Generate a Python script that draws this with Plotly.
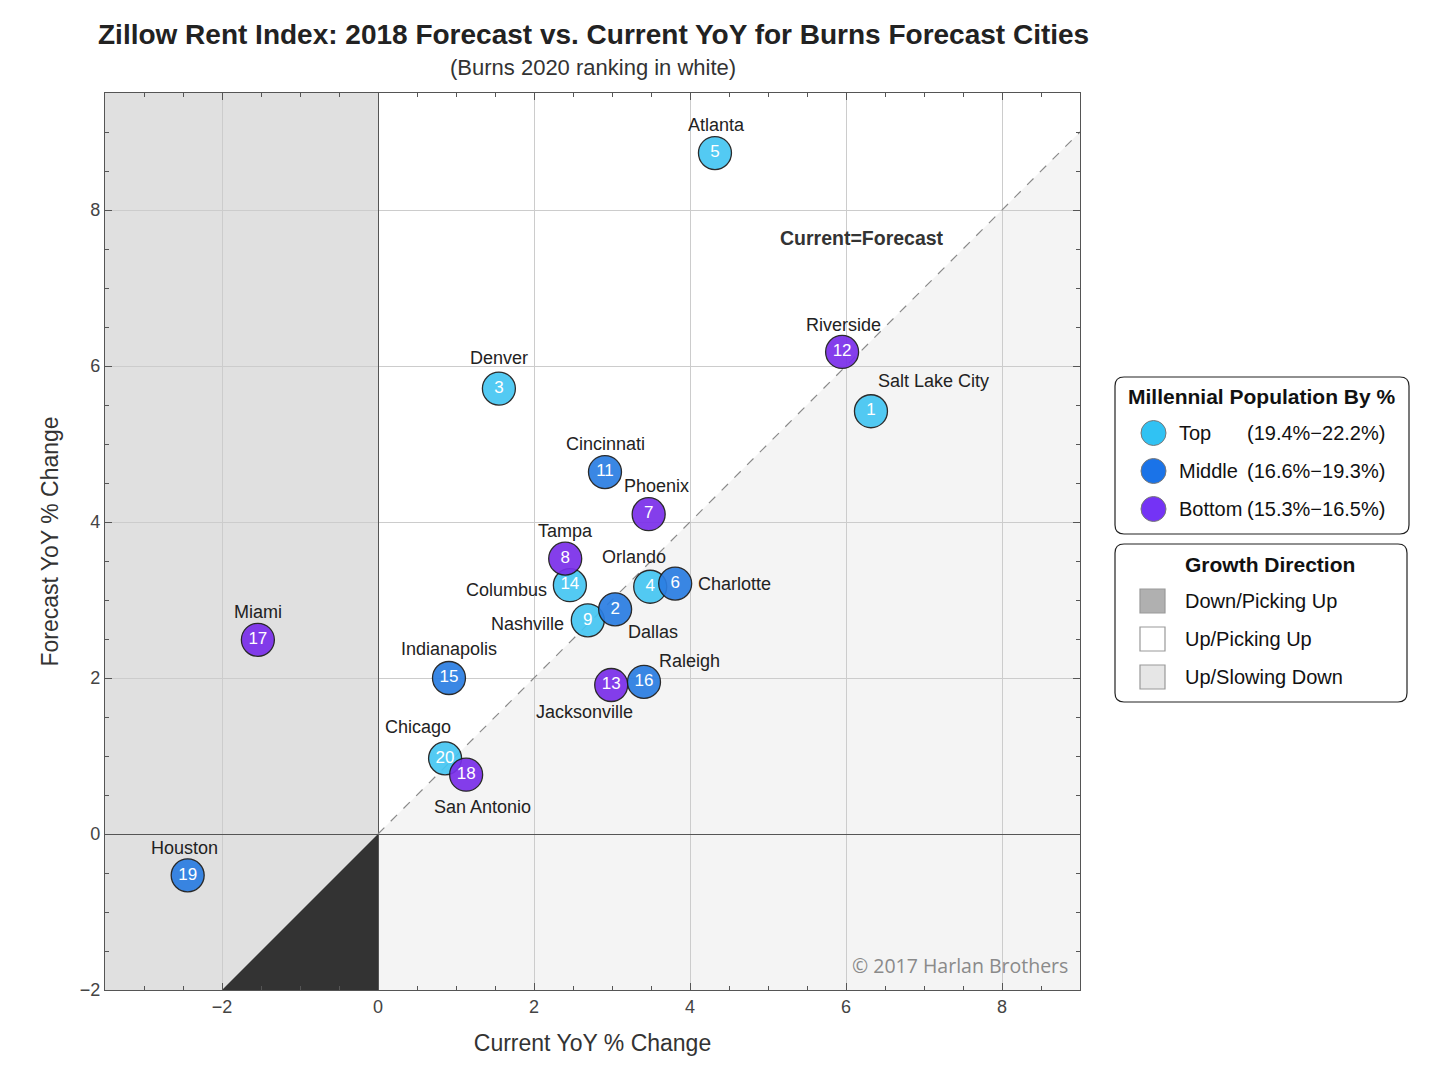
import plotly.graph_objects as go

# data
cities = ["Atlanta", "Riverside", "Salt Lake City", "Denver", "Cincinnati", "Phoenix",
          "Tampa", "Columbus", "Orlando", "Charlotte", "Dallas", "Nashville", "Miami",
          "Indianapolis", "Jacksonville", "Raleigh", "Chicago", "San Antonio", "Houston"]
current_yoy = [4.32, 5.95, 6.32, 1.55, 2.91, 3.47, 2.40, 2.46, 3.49, 3.81, 3.04, 2.69,
               -1.54, 0.91, 2.99, 3.41, 0.86, 1.13, -2.44]
forecast_yoy = [8.73, 6.18, 5.42, 5.71, 4.64, 4.10, 3.53, 3.19, 3.17, 3.21, 2.88, 2.74,
                2.49, 2.00, 1.91, 1.95, 0.97, 0.76, -0.53]
burns_rank = [5, 12, 1, 3, 11, 7, 8, 14, 4, 6, 2, 9, 17, 15, 13, 16, 20, 18, 19]
millennial_group = ["Top", "Bottom", "Top", "Top", "Middle", "Bottom", "Bottom", "Top", "Top",
                    "Middle", "Middle", "Top", "Bottom", "Middle", "Bottom", "Middle", "Top",
                    "Bottom", "Middle"]

group_names = ["Top", "Middle", "Bottom"]
group_ranges = ["(19.4%\u221222.2%)", "(16.6%\u221219.3%)", "(15.3%\u221216.5%)"]
growth_names = ["Down/Picking Up", "Up/Picking Up", "Up/Slowing Down"]

x_ticks = [-2, 0, 2, 4, 6, 8]
y_ticks = [-2, 0, 2, 4, 6, 8]
x_range = [-3.5, 9]
y_range = [-2, 9.5]

# styles
marker_colors = {"Top": "#45c6f2", "Middle": "#2a7de2", "Bottom": "#7a2eea"}
legend_colors = {"Top": "#30c2f3", "Middle": "#1a73e8", "Bottom": "#7433f5"}
growth_colors = ["#b0b0b0", "#ffffff", "#e6e6e6"]
FONT = "Liberation Sans, Arial, sans-serif"

# label placement (pixel offsets from each point)
label_pos = {
    "Atlanta": ("center", 2, 28), "Riverside": ("center", 1, 27),
    "Salt Lake City": ("center", 63, 30), "Denver": ("center", 0, 31),
    "Cincinnati": ("center", 1, 28), "Phoenix": ("center", 8, 28),
    "Tampa": ("center", 0, 28), "Columbus": ("right", -21, -5),
    "Orlando": ("center", -16, 30), "Charlotte": ("left", 21, 0),
    "Dallas": ("center", 38, -23), "Nashville": ("right", -22, -4),
    "Miami": ("center", 0, 28), "Indianapolis": ("center", 0, 29),
    "Jacksonville": ("center", -27, -27), "Raleigh": ("center", 46, 21),
    "Chicago": ("center", -27, 31), "San Antonio": ("center", 16, -32),
    "Houston": ("center", -3, 27),
}

fig = go.Figure()

# background regions
shapes = [
    dict(type="rect", xref="x", yref="y", x0=x_range[0], x1=0, y0=y_range[0], y1=y_range[1],
         fillcolor="#e0e0e0", line_width=0, layer="below"),
    dict(type="path", xref="x", yref="y",
         path=f"M 0 0 L {x_range[1]} {x_range[1]} L {x_range[1]} {y_range[0]} L 0 {y_range[0]} Z",
         fillcolor="#f4f4f4", line_width=0, layer="below"),
    dict(type="path", xref="x", yref="y",
         path=f"M 0 0 L {y_range[0]} {y_range[0]} L 0 {y_range[0]} Z",
         fillcolor="#333333", line_width=0, layer="below"),
]

# current = forecast reference line
fig.add_trace(go.Scatter(x=[0, x_range[1]], y=[0, x_range[1]], mode="lines",
                         line=dict(color="#8a8a8a", width=1.2, dash="dash"),
                         hoverinfo="skip", showlegend=False))

# points, drawn in order so overlaps match
for g in ["Top", "Bottom", "Middle"]:
    idx = [i for i, m in enumerate(millennial_group) if m == g]
    fig.add_trace(go.Scatter(
        x=[current_yoy[i] for i in idx],
        y=[forecast_yoy[i] for i in idx],
        text=[str(burns_rank[i]) for i in idx],
        mode="markers+text",
        textposition="middle center",
        textfont=dict(color="white", size=17, family=FONT),
        marker=dict(size=33, color=marker_colors[g], opacity=0.92,
                    line=dict(color="#1a1a1a", width=1.3)),
        hovertext=[cities[i] for i in idx],
        showlegend=False,
    ))

annotations = []
for i, c in enumerate(cities):
    anchor, dx, dy = label_pos[c]
    annotations.append(dict(x=current_yoy[i], y=forecast_yoy[i], xref="x", yref="y",
                            text=c, showarrow=False, xanchor=anchor, yanchor="middle",
                            xshift=dx, yshift=dy,
                            font=dict(size=18, color="#222", family=FONT)))


# page pixel -> paper helpers for the overlay items (page has an 8px body margin)
def px(v):
    return (v - 105) / 975


def py(v):
    return (990 - v) / 897


def note(x, y, text, size, color="#111", anchor="center", family=FONT):
    return dict(x=px(x), y=py(y), xref="paper", yref="paper", showarrow=False,
                xanchor=anchor, yanchor="middle", text=text,
                font=dict(size=size, color=color, family=family))


annotations += [
    note(593, 35, "<b>Zillow Rent Index: 2018 Forecast vs. Current YoY for Burns Forecast Cities</b>",
         28, "#222"),
    note(593, 67, "(Burns 2020 ranking in white)", 22, "#333"),
    note(862, 238, "<b>Current=Forecast</b>", 19.5, "#333"),
    note(1070, 965, "\u00a9 2017 Harlan Brothers", 19.5, "#8a8a8a", "right", "Open Sans"),
]


def rounded_box(x0, y0, x1, y1, r=9):
    a0, a1 = px(x0), px(x1)
    b0, b1 = py(y1), py(y0)
    rx, ry = r / 975, r / 897
    return (f"M {a0 + rx} {b0} L {a1 - rx} {b0} Q {a1} {b0} {a1} {b0 + ry} "
            f"L {a1} {b1 - ry} Q {a1} {b1} {a1 - rx} {b1} L {a0 + rx} {b1} "
            f"Q {a0} {b1} {a0} {b1 - ry} L {a0} {b0 + ry} Q {a0} {b0} {a0 + rx} {b0} Z")


# legend 1: millennial population
shapes.append(dict(type="path", xref="paper", yref="paper", path=rounded_box(1115, 377, 1409, 534),
                   line=dict(color="#222", width=1.2), fillcolor="white"))
annotations.append(note(1262, 397, "<b>Millennial Population By %</b>", 21))
for k, g in enumerate(group_names):
    cy = 433 + 38 * k
    shapes.append(dict(type="circle", xref="paper", yref="paper",
                       x0=px(1141), x1=px(1166), y0=py(cy + 12.5), y1=py(cy - 12.5),
                       fillcolor=legend_colors[g], line=dict(color="#777", width=1)))
    annotations.append(note(1177, cy, g, 20, anchor="left"))
    annotations.append(note(1245, cy, group_ranges[k], 20, anchor="left"))

# legend 2: growth direction
shapes.append(dict(type="path", xref="paper", yref="paper", path=rounded_box(1115, 544, 1407, 702),
                   line=dict(color="#222", width=1.2), fillcolor="white"))
annotations.append(note(1270, 564, "<b>Growth Direction</b>", 21))
for k, name in enumerate(growth_names):
    cy = 601 + 38 * k
    shapes.append(dict(type="rect", xref="paper", yref="paper",
                       x0=px(1140), x1=px(1165), y0=py(cy + 12), y1=py(cy - 12),
                       fillcolor=growth_colors[k], line=dict(color="#999", width=1.2)))
    annotations.append(note(1183, cy, name, 20, anchor="left"))

axis_common = dict(
    automargin=False,
    showgrid=True, gridcolor="#cccccc", gridwidth=1,
    zeroline=True, zerolinecolor="#555555", zerolinewidth=1.2,
    showline=True, linecolor="#555555", linewidth=1.2, mirror="ticks",
    ticks="inside", ticklen=7, tickcolor="#555555",
    minor=dict(dtick=0.5, ticks="inside", ticklen=4, tickcolor="#555555", showgrid=False),
    tickfont=dict(size=18, color="#444", family=FONT),
)

fig.update_layout(
    width=1440, height=1080,
    margin=dict(l=97, r=368, t=85, b=98),
    paper_bgcolor="white", plot_bgcolor="white",
    font=dict(family=FONT),
    xaxis=dict(range=x_range, tickvals=x_ticks, title=dict(text="Current YoY % Change", standoff=19,
               font=dict(size=23, color="#333", family=FONT)), **axis_common),
    yaxis=dict(range=y_range, tickvals=y_ticks, title=dict(text="Forecast YoY % Change", standoff=14,
               font=dict(size=23, color="#333", family=FONT)), **axis_common),
    shapes=shapes,
    annotations=annotations,
    showlegend=False,
)

fig.write_html("out.html")
